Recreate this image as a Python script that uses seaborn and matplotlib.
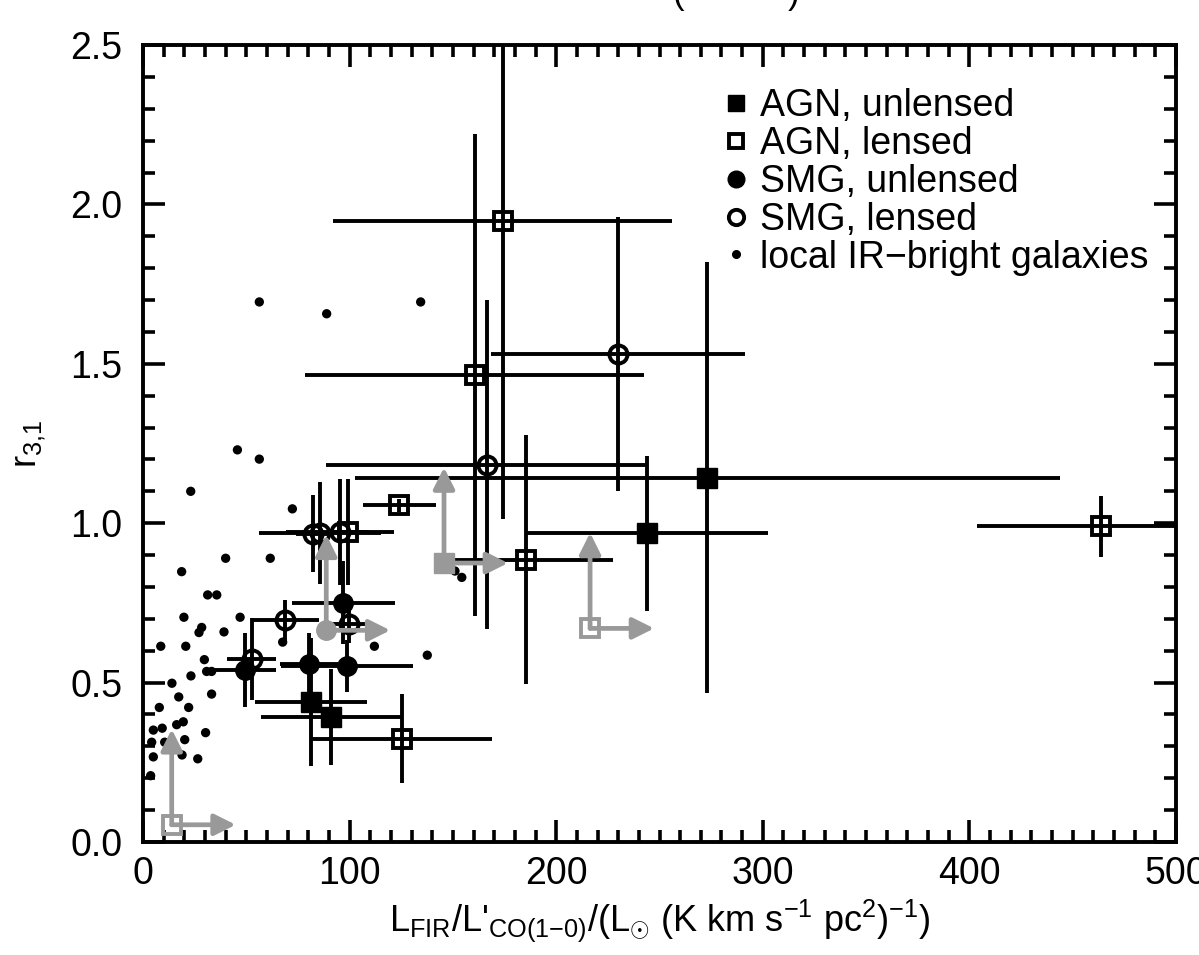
import matplotlib
matplotlib.use("Agg")
import matplotlib.pyplot as plt
from matplotlib.lines import Line2D
from matplotlib.ticker import MultipleLocator, FormatStrFormatter
import seaborn as sns

# AGN, unlensed (filled squares)
agn_unl_x = [273.2, 244.0, 81.2, 91.0]
agn_unl_y = [1.142, 0.968, 0.439, 0.392]
agn_unl_xerr = [170.6, 58.5, 27.0, 34.0]
agn_unl_yerr = [0.676, 0.243, 0.20, 0.15]

# AGN, lensed (open squares)
agn_len_x = [174.1, 160.5, 185.4, 463.7, 124.1, 99.4, 125.2]
agn_len_y = [1.948, 1.465, 0.886, 0.990, 1.056, 0.972, 0.324]
agn_len_xerr = [82.0, 82.0, 42.0, 60.0, 17.5, 10.0, 43.5]
agn_len_yerr = [0.935, 0.755, 0.39, 0.095, 0.02, 0.167, 0.14]

# SMG, unlensed (filled circles)
smg_unl_x = [97.0, 80.5, 98.9, 49.4]
smg_unl_y = [0.751, 0.557, 0.552, 0.540]
smg_unl_xerr = [25.0, 14.0, 32.0, 15.0]
smg_unl_yerr = [0.13, 0.10, 0.082, 0.115]

# SMG, lensed (open circles)
smg_len_x = [229.8, 166.4, 82.1, 85.7, 95.3, 99.9, 68.9, 52.6]
smg_len_y = [1.531, 1.184, 0.967, 0.970, 0.972, 0.684, 0.695, 0.574]
smg_len_xerr = [61.5, 78.0, 8.0, 29.6, 26.0, 10.5, 16.5, 11.7]
smg_len_yerr = [0.43, 0.515, 0.12, 0.16, 0.167, 0.06, 0.065, 0.13]

# lower limits (grey): marker kind, x, y
lim_kind = ["open_sq", "circle", "filled_sq", "open_sq"]
lim_x = [13.9, 88.7, 145.7, 216.4]
lim_y = [0.054, 0.664, 0.875, 0.670]

# local IR-bright galaxies
local_x = [56.3, 88.9, 134.4, 45.7, 56.3, 23.1, 72.3, 40.0, 61.6, 18.7,
           31.3, 35.7, 19.8, 47.0, 28.4, 27.1, 39.2, 8.6, 20.7, 67.6,
           112.0, 137.6, 29.7, 30.8, 33.2, 23.2, 14.0, 33.2, 17.3, 7.9,
           22.1, 5.0, 9.3, 16.3, 19.5, 10.5, 4.2, 20.2, 30.3, 5.0,
           18.9, 26.5, 3.7, 151.0, 154.3]
local_y = [1.694, 1.657, 1.694, 1.230, 1.201, 1.100, 1.045, 0.890, 0.890, 0.848,
           0.775, 0.775, 0.705, 0.705, 0.673, 0.657, 0.659, 0.614, 0.614, 0.627,
           0.614, 0.586, 0.572, 0.535, 0.535, 0.521, 0.498, 0.464, 0.455, 0.422,
           0.422, 0.351, 0.357, 0.368, 0.377, 0.313, 0.313, 0.321, 0.343, 0.267,
           0.273, 0.261, 0.208, 0.850, 0.830]

legend_labels = ["AGN, unlensed", "AGN, lensed", "SMG, unlensed",
                 "SMG, lensed", "local IR\u2212bright galaxies"]

sns.set_theme(style="ticks")
plt.rcParams["font.family"] = ["Liberation Sans", "DejaVu Sans"]
plt.rcParams["mathtext.fontset"] = "custom"
plt.rcParams["mathtext.rm"] = "Liberation Sans"
plt.rcParams["mathtext.it"] = "Liberation Sans:italic"
plt.rcParams["mathtext.bf"] = "Liberation Sans:bold"
plt.rcParams.update({"text.color": "black", "axes.labelcolor": "black",
                     "xtick.color": "black", "ytick.color": "black"})

grey = "#999999"
lw = 2.8
arrow_dx = 31.0   # arrow length in x (style)
arrow_dy = 0.30   # arrow length in y (style)

fig = plt.figure(figsize=(11.99, 9.55), dpi=100)
ax = fig.add_axes([143 / 1199, 113 / 955, 1033 / 1199, 797 / 955])

# local galaxies
sns.scatterplot(x=local_x, y=local_y, color="black", s=45, edgecolor="none",
                ax=ax, zorder=2, legend=False)

common = dict(ls="none", ecolor="black", elinewidth=lw, capsize=0, zorder=3)
ax.errorbar(agn_unl_x, agn_unl_y, xerr=agn_unl_xerr, yerr=agn_unl_yerr,
            marker="s", ms=14, mfc="black", mec="black", **common)
ax.errorbar(agn_len_x, agn_len_y, xerr=agn_len_xerr, yerr=agn_len_yerr,
            marker="s", ms=13, mfc="none", mec="black", mew=2.8, **common)
ax.errorbar(smg_unl_x, smg_unl_y, xerr=smg_unl_xerr, yerr=smg_unl_yerr,
            marker="o", ms=14, mfc="black", mec="black", **common)
ax.errorbar(smg_len_x, smg_len_y, xerr=smg_len_xerr, yerr=smg_len_yerr,
            marker="o", ms=13, mfc="none", mec="black", mew=2.8, **common)

# grey lower limits with arrows
for kind, x, y in zip(lim_kind, lim_x, lim_y):
    for tx, ty in [(x + arrow_dx, y), (x, y + arrow_dy)]:
        ax.annotate("", xy=(tx, ty), xytext=(x, y),
                    arrowprops=dict(arrowstyle="-|>", color=grey, lw=3.4,
                                    mutation_scale=32, shrinkA=0, shrinkB=0),
                    zorder=5)
    if kind == "open_sq":
        ax.plot(x, y, marker="s", ms=13, mfc="none", mec=grey, mew=2.8, zorder=6)
    elif kind == "filled_sq":
        ax.plot(x, y, marker="s", ms=14, mfc=grey, mec=grey, zorder=6)
    else:
        ax.plot(x, y, marker="o", ms=14, mfc=grey, mec=grey, zorder=6)

ax.set_xlim(0, 500)
ax.set_ylim(0, 2.5)
ax.xaxis.set_major_locator(MultipleLocator(100))
ax.xaxis.set_minor_locator(MultipleLocator(10))
ax.yaxis.set_major_locator(MultipleLocator(0.5))
ax.yaxis.set_minor_locator(MultipleLocator(0.1))
ax.yaxis.set_major_formatter(FormatStrFormatter("%.1f"))
ax.tick_params(which="both", direction="in", top=True, right=True,
               width=2.6, colors="black", labelsize=27)
ax.tick_params(which="major", length=15.6)
ax.tick_params(which="minor", length=8.4)
ax.tick_params(axis="x", which="major", pad=10)
ax.tick_params(axis="y", which="major", pad=15)
for sp in ax.spines.values():
    sp.set_linewidth(2.8)
    sp.set_color("black")

ax.set_xlabel(r"L$_{\mathrm{FIR}}$/L$'_{\mathrm{CO(1{-}0)}}$/(L$_{\odot}$ "
              r"(K km s$^{-1}$ pc$^{2}$)$^{-1}$)", fontsize=26, labelpad=4)
ax.set_ylabel(r"r$_{3{,}1}$", fontsize=26, labelpad=16)

handles = [
    Line2D([], [], ls="none", marker="s", ms=11, mfc="black", mec="black"),
    Line2D([], [], ls="none", marker="s", ms=10, mfc="none", mec="black", mew=2.8),
    Line2D([], [], ls="none", marker="o", ms=12, mfc="black", mec="black"),
    Line2D([], [], ls="none", marker="o", ms=11, mfc="none", mec="black", mew=2.8),
    Line2D([], [], ls="none", marker="o", ms=5.5, mfc="black", mec="black"),
]
ax.legend(handles, legend_labels, loc="upper left", bbox_to_anchor=(0.563, 0.946),
          frameon=False, fontsize=27, handlelength=0.6, handletextpad=0.35,
          labelspacing=0.05, borderaxespad=0, borderpad=0)

# remnant of a title cut off at the top edge
fig.text(679 / 1199, 1 - 4 / 955, "(", ha="center", va="baseline", fontsize=25)
fig.text(794 / 1199, 1 - 4 / 955, ")", ha="center", va="baseline", fontsize=25)

fig.savefig("out.png", dpi=100)
